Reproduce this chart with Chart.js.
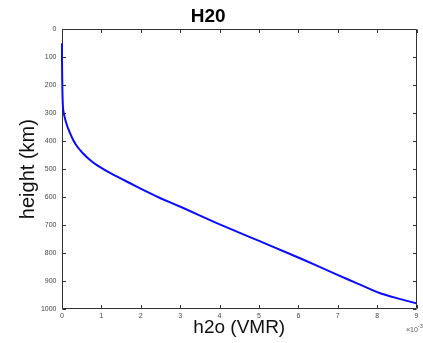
<!DOCTYPE html>
<html>
<head>
<meta charset="utf-8">
<script src="https://cdn.jsdelivr.net/npm/chart.js@4.4.1/dist/chart.umd.min.js"></script>
<style>
html,body{margin:0;padding:0;background:#fff;}
#wrap{width:423px;height:343px;position:relative;}
</style>
</head>
<body>
<div id="wrap"><canvas id="c" width="423" height="343"></canvas></div>
<script>
// Data (h2o in units of 1e-3 VMR, height in km)
const heightKm = [50,100,150,200,230,260,288,310,336,360,395,420,443,465,485,520,556,586,604,639,693,741,776,824,877,910,943,962,980];
const h2oE3   = [0,0,0.003,0.008,0.012,0.018,0.03,0.06,0.11,0.17,0.28,0.39,0.53,0.69,0.875,1.30,1.81,2.23,2.5,3.08,3.93,4.74,5.33,6.13,6.98,7.52,8.06,8.52,9.0];
const xTicks = [0,1,2,3,4,5,6,7,8,9];
const yTicks = [0,100,200,300,400,500,600,700,800,900,1000];
const titleText = 'H20';
const xLabel = 'h2o (VMR)';
const yLabel = 'height (km)';
const xExponent = '-3';

const points = heightKm.map((h, i) => ({x: h2oE3[i], y: h}));
const axisColor = '#333333';
const FONT = "'Liberation Sans', Arial, Helvetica, sans-serif";

const boxPlugin = {
  id: 'boxPlugin',
  beforeDatasetsDraw(chart) {
    const {ctx, chartArea: {left, right, top, bottom}, scales: {x, y}} = chart;
    ctx.save();
    ctx.strokeStyle = axisColor;
    ctx.lineWidth = 1;
    const L = Math.round(left) + 0.5, R = Math.round(right) - 0.5;
    const T = Math.round(top) + 0.5, B = Math.round(bottom) - 0.5;
    ctx.beginPath();
    ctx.moveTo(L, T); ctx.lineTo(R, T); ctx.lineTo(R, B); ctx.lineTo(L, B); ctx.closePath();
    const tl = 3.5;
    xTicks.forEach(v => {
      const px = Math.round(x.getPixelForValue(v)) + 0.5;
      ctx.moveTo(px, B); ctx.lineTo(px, B - tl);
      ctx.moveTo(px, T); ctx.lineTo(px, T + tl);
    });
    yTicks.forEach(v => {
      const py = Math.round(y.getPixelForValue(v)) + 0.5;
      ctx.moveTo(L, py); ctx.lineTo(L + tl, py);
      ctx.moveTo(R, py); ctx.lineTo(R - tl, py);
    });
    ctx.stroke();
    ctx.restore();
  },
  afterDraw(chart) {
    const {ctx} = chart;
    ctx.save();
    ctx.fillStyle = '#555555';
    ctx.textBaseline = 'alphabetic';
    ctx.textAlign = 'left';
    ctx.font = '7px ' + FONT;
    const baseX = 406, baseY = 331.5;
    const w = ctx.measureText('\u00d710').width;
    ctx.fillText('\u00d710', baseX, baseY);
    ctx.font = '5.5px ' + FONT;
    ctx.fillText(xExponent, baseX + w, baseY - 3.5);
    ctx.restore();
  }
};

new Chart(document.getElementById('c'), {
  type: 'scatter',
  data: {
    datasets: [{
      data: points,
      showLine: true,
      borderColor: '#0a0aff',
      backgroundColor: '#0a0aff',
      borderWidth: 2,
      pointRadius: 0,
      tension: 0.2,
      clip: {left: 1.5, right: 1, top: 1, bottom: 1}
    }]
  },
  options: {
    responsive: false,
    animation: false,
    events: [],
    layout: {padding: {left: 0, right: 6.5, top: 0, bottom: 0}},
    plugins: {
      legend: {display: false},
      tooltip: {enabled: false},
      title: {
        display: true,
        text: titleText,
        color: '#000',
        font: {family: FONT, size: 19, weight: 'bold'},
        padding: {top: 4.9, bottom: 1.6}
      }
    },
    scales: {
      x: {
        type: 'linear',
        min: 0, max: 9,
        afterBuildTicks: s => { s.ticks = xTicks.map(v => ({value: v})); },
        afterFit: s => { s.height = 34; },
        grid: {display: false, drawTicks: false},
        border: {display: false},
        ticks: {color: '#444', font: {family: FONT, size: 7}, padding: 3, maxRotation: 0, autoSkip: false,
                callback: v => String(v)},
        title: {display: true, text: xLabel, color: '#111', font: {family: FONT, size: 19}, padding: {top: 0, bottom: 4.2}}
      },
      y: {
        type: 'linear',
        reverse: true,
        min: 0, max: 1000,
        afterBuildTicks: s => { s.ticks = yTicks.map(v => ({value: v})); },
        afterFit: s => { s.width = 62; },
        grid: {display: false, drawTicks: false},
        border: {display: false},
        ticks: {color: '#444', font: {family: FONT, size: 7}, padding: 5.5, autoSkip: false,
                callback: v => String(v)},
        title: {display: true, text: yLabel, color: '#111', font: {family: FONT, size: 20}, padding: {top: 16.3, bottom: 0}}
      }
    }
  },
  plugins: [boxPlugin]
});
</script>
</body>
</html>
